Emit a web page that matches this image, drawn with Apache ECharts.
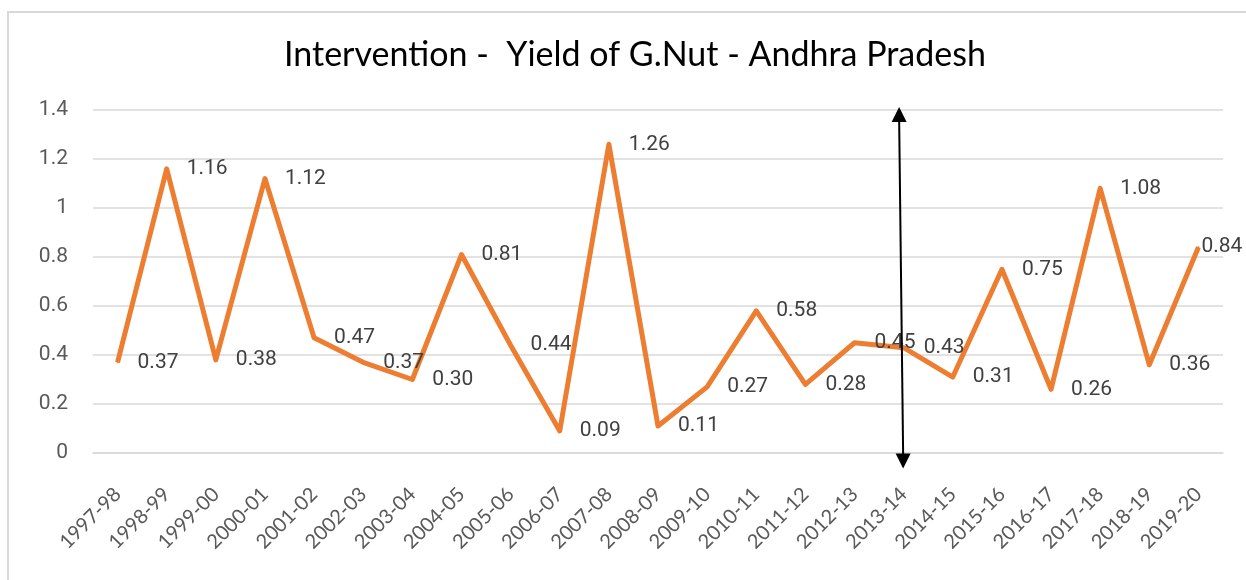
<!DOCTYPE html>
<html>
<head>
<meta charset="utf-8">
<script src="https://cdn.jsdelivr.net/npm/echarts@6/dist/echarts.min.js"></script>
<style>
html,body{margin:0;padding:0;background:#fff;}
#chart{width:1246px;height:580px;}
</style>
</head>
<body>
<div id="chart"></div>
<script>
const titleText = 'Intervention -  Yield of G.Nut - Andhra Pradesh';
const categories = ['1997-98','1998-99','1999-00','2000-01','2001-02','2002-03','2003-04','2004-05','2005-06','2006-07','2007-08','2008-09','2009-10','2010-11','2011-12','2012-13','2013-14','2014-15','2015-16','2016-17','2017-18','2018-19','2019-20'];
const yieldValues = [0.37,1.16,0.38,1.12,0.47,0.37,0.30,0.81,0.44,0.09,1.26,0.11,0.27,0.58,0.28,0.45,0.43,0.31,0.75,0.26,1.08,0.36,0.84];
const yTicks = {min: 0, max: 1.4, interval: 0.2};
const arrowCategory = '2013-14';

const chart = echarts.init(document.getElementById('chart'));
const seriesData = yieldValues.map((v, i) => {
  if (i === yieldValues.length - 1) {
    return {value: v, label: {distance: 2}};
  }
  return v;
});

chart.setOption({
  backgroundColor: '#ffffff',
  animation: false,
  title: {
    text: titleText,
    left: 630,
    top: 33,
    textAlign: 'center',
    textStyle: {fontFamily: 'Lato', fontSize: 34, fontWeight: 'normal', color: '#000000'}
  },
  grid: {left: 93, right: 23, top: 110, bottom: 127, containLabel: false},
  xAxis: {
    type: 'category',
    data: categories,
    boundaryGap: true,
    axisLine: {show: true, lineStyle: {color: '#d9d9d9', width: 1.5}},
    axisTick: {show: false},
    axisLabel: {
      rotate: 45,
      interval: 0,
      margin: 38,
      fontFamily: 'Lato',
      fontSize: 20,
      color: '#595959'
    }
  },
  yAxis: {
    type: 'value',
    min: yTicks.min,
    max: yTicks.max,
    interval: yTicks.interval,
    axisLine: {show: false},
    axisTick: {show: false},
    splitLine: {lineStyle: {color: '#d9d9d9', width: 1.5}},
    axisLabel: {
      margin: 25,
      fontFamily: 'Roboto',
      fontSize: 21,
      color: '#595959',
      formatter: v => (Math.round(v * 10) / 10).toString()
    }
  },
  series: [{
    type: 'line',
    data: seriesData,
    symbol: 'circle',
    symbolSize: 2,
    showSymbol: true,
    itemStyle: {color: '#ED7D31'},
    lineStyle: {color: '#ED7D31', width: 5, join: 'round'},
    label: {
      show: true,
      position: 'right',
      distance: 19,
      fontFamily: 'Roboto',
      fontSize: 21,
      color: '#404040',
      formatter: p => Number(p.value).toFixed(2)
    },
    z: 3
  }]
});

function drawArrow() {
  const cx = chart.convertToPixel({xAxisIndex: 0}, arrowCategory);
  const yTop = chart.convertToPixel({yAxisIndex: 0}, yTicks.max) - 3;
  const yBot = chart.convertToPixel({yAxisIndex: 0}, yTicks.min) + 15.5;
  const xTop = cx - 4.5, xBot = cx - 0.5;
  const hw = 7.5, hh = 15;
  chart.setOption({
    graphic: [
      {
        type: 'rect', z: -10,
        shape: {x: 8, y: 12, width: 1250, height: 580},
        style: {fill: 'none', stroke: '#d9d9d9', lineWidth: 2},
        silent: true
      },
      {
        type: 'line', z: 10,
        shape: {x1: xTop, y1: yTop + hh - 2, x2: xBot, y2: yBot - hh + 2},
        style: {stroke: '#000000', lineWidth: 2}
      },
      {
        type: 'polygon', z: 10,
        shape: {points: [[xTop, yTop], [xTop - hw, yTop + hh], [xTop + hw, yTop + hh]]},
        style: {fill: '#000000'}
      },
      {
        type: 'polygon', z: 10,
        shape: {points: [[xBot, yBot], [xBot - hw, yBot - hh], [xBot + hw, yBot - hh]]},
        style: {fill: '#000000'}
      }
    ]
  });
}
drawArrow();
</script>
</body>
</html>
